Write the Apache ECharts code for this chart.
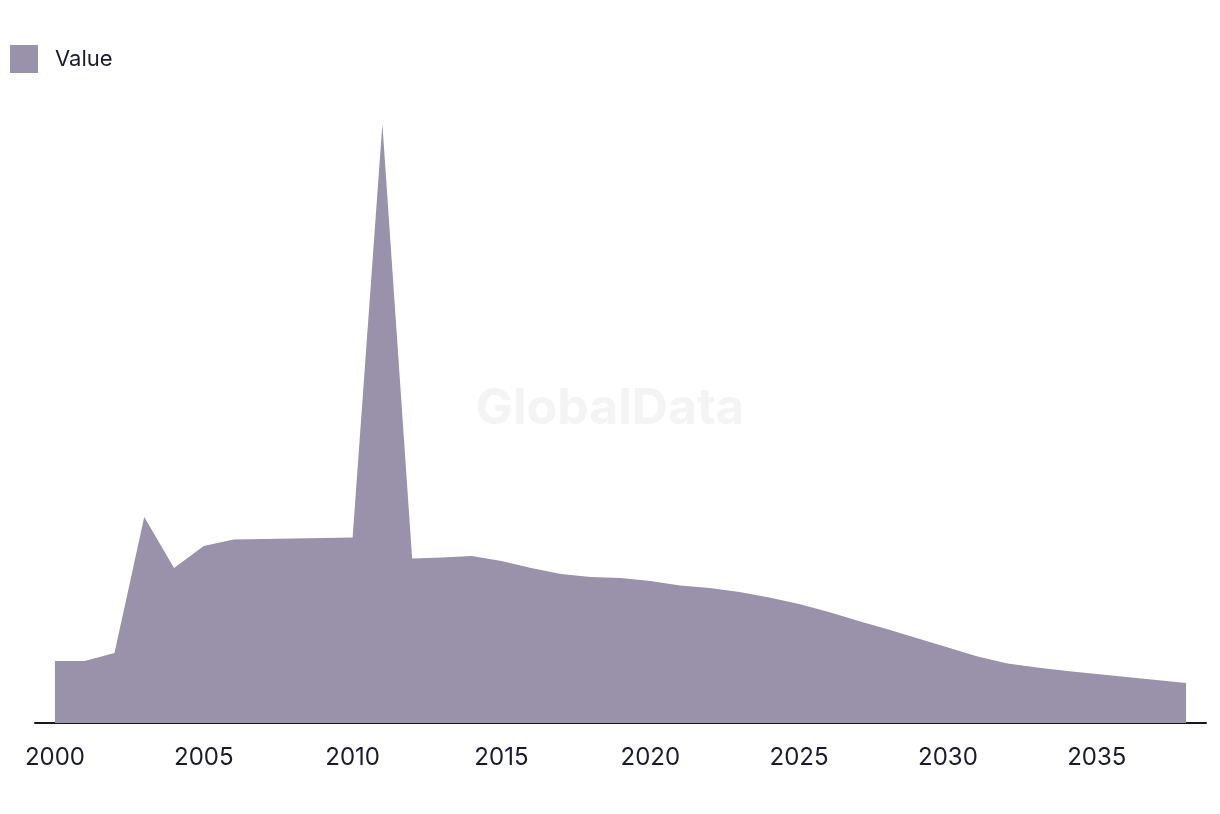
<!DOCTYPE html>
<html>
<head>
<meta charset="utf-8">
<script src="https://cdn.jsdelivr.net/npm/echarts@6/dist/echarts.min.js"></script>
<style>
html,body{margin:0;padding:0;background:#fff;}
#chart{width:1220px;height:814px;}
</style>
</head>
<body>
<div id="chart"></div>
<script>
const years = [2000,2001,2002,2003,2004,2005,2006,2007,2008,2009,2010,2011,2012,2013,2014,2015,2016,2017,2018,2019,2020,2021,2022,2023,2024,2025,2026,2027,2028,2029,2030,2031,2032,2033,2034,2035,2036,2037,2038];
const values = [62,62,70,206,155,177,183.5,184,184.5,185,185.5,599,164.5,165.5,167,162,155,149,146,145,142,137.5,135,131,125.5,119,111,102,93.5,84.5,75.5,66.5,59.5,55.5,52,49,46,43,40];
const tickLabels = [2000,2005,2010,2015,2020,2025,2030,2035];
const seriesName = 'Value';

const chart = echarts.init(document.getElementById('chart'));
const font = 'Inter, "Liberation Sans", sans-serif';
chart.setOption({
  animation: false,
  backgroundColor: '#ffffff',
  graphic: [{
    type: 'text',
    left: 'center',
    top: 384,
    z: 0,
    style: {text: 'GlobalData', font: 'bold 50px ' + font, fill: '#f4f4f4'}
  }],
  legend: {
    left: 5, top: 40,
    itemWidth: 28, itemHeight: 28,
    icon: 'rect',
    textStyle: {fontSize: 22, color: '#1b1a33', fontFamily: font, padding: [0,0,0,12]},
    data: [seriesName]
  },
  grid: {left: 35, right: 14, top: 23, bottom: 91},
  xAxis: {
    type: 'value',
    min: 1999.33, max: 2038.67,
    axisLine: {show: true, lineStyle: {color: '#16152b', width: 2}},
    axisTick: {show: false},
    splitLine: {show: false},
    axisLabel: {
      customValues: tickLabels,
      fontSize: 24, color: '#1b1a33', fontFamily: font, margin: 23,
      formatter: v => String(Math.round(v))
    }
  },
  yAxis: {
    type: 'value', min: 0, max: 700,
    show: false, splitLine: {show: false}
  },
  series: [{
    name: seriesName,
    type: 'line',
    data: years.map((y, i) => [y, values[i]]),
    showSymbol: false,
    lineStyle: {width: 0},
    itemStyle: {color: '#9a91aa'},
    areaStyle: {color: '#9a91aa', opacity: 1},
    z: 2
  }]
});
</script>
</body>
</html>
